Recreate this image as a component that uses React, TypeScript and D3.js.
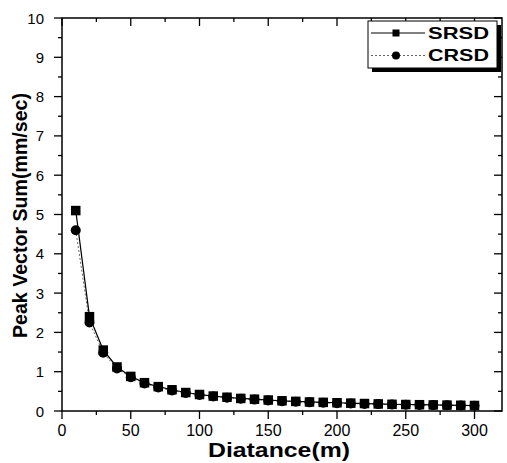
import { useEffect, useRef } from 'react';
import * as d3 from 'd3';

const distance = [10, 20, 30, 40, 50, 60, 70, 80, 90, 100, 110, 120, 130, 140, 150, 160, 170, 180, 190, 200, 210, 220, 230, 240, 250, 260, 270, 280, 290, 300];
const srsd = [5.1, 2.4, 1.55, 1.12, 0.88, 0.72, 0.62, 0.54, 0.47, 0.42, 0.38, 0.35, 0.32, 0.3, 0.28, 0.26, 0.245, 0.23, 0.22, 0.21, 0.2, 0.19, 0.18, 0.17, 0.165, 0.16, 0.155, 0.15, 0.145, 0.14];
const crsd = [4.6, 2.25, 1.48, 1.08, 0.86, 0.7, 0.6, 0.52, 0.46, 0.41, 0.37, 0.34, 0.31, 0.29, 0.27, 0.25, 0.235, 0.22, 0.21, 0.2, 0.19, 0.18, 0.175, 0.165, 0.16, 0.155, 0.15, 0.145, 0.14, 0.135];
const xTicks = [0, 50, 100, 150, 200, 250, 300];
const yTicks = [0, 1, 2, 3, 4, 5, 6, 7, 8, 9, 10];
const seriesNames = ['SRSD', 'CRSD'];

const App = () => {
	const ref = useRef<SVGSVGElement>(null);

	useEffect(() => {
		const margin = { top: 18, right: 5, bottom: 52, left: 62 },
			width = 507 - margin.left - margin.right,
			height = 463 - margin.top - margin.bottom;

		const svg = d3.select(ref.current).attr('width', 507).attr('height', 463);
		svg.selectAll('*').remove();
		const font = 'Liberation Sans, Arial, sans-serif';

		const x = d3.scaleLinear().domain([0, 320]).range([0, width]);
		const y = d3.scaleLinear().domain([0, 10]).range([height, 0]);

		const g = svg.append('g').attr('transform', `translate(${margin.left}, ${margin.top})`);

		// frame
		g.append('rect')
			.attr('width', width)
			.attr('height', height)
			.attr('fill', 'none')
			.attr('stroke', '#000')
			.attr('stroke-width', 1.5);

		const xMinor = d3.range(0, 325, 25);
		const yMinor = d3.range(0, 10.01, 0.5);

		// bottom/left ticks outward, top/right mirrored inward
		xMinor.forEach((v) => {
			const len = v % 50 === 0 ? 8 : 4;
			g.append('line').attr('x1', x(v)).attr('x2', x(v)).attr('y1', height).attr('y2', height + len).attr('stroke', '#000').attr('stroke-width', 1.3);
			g.append('line').attr('x1', x(v)).attr('x2', x(v)).attr('y1', 0).attr('y2', len).attr('stroke', '#000').attr('stroke-width', 1.3);
		});
		yMinor.forEach((v) => {
			const len = Math.abs(v % 1) < 1e-6 ? 8 : 4;
			g.append('line').attr('y1', y(v)).attr('y2', y(v)).attr('x1', 0).attr('x2', -len).attr('stroke', '#000').attr('stroke-width', 1.3);
			g.append('line').attr('y1', y(v)).attr('y2', y(v)).attr('x1', width).attr('x2', width - len).attr('stroke', '#000').attr('stroke-width', 1.3);
		});

		g.selectAll('.xt')
			.data(xTicks)
			.join('text')
			.attr('x', (d) => x(d))
			.attr('y', height + 25)
			.attr('text-anchor', 'middle')
			.attr('font-family', font)
			.attr('font-size', 16)
			.text((d) => d);

		g.selectAll('.yt')
			.data(yTicks)
			.join('text')
			.attr('x', -18)
			.attr('y', (d) => y(d) + 5.5)
			.attr('text-anchor', 'end')
			.attr('font-family', font)
			.attr('font-size', 15)
			.text((d) => d);

		g.append('text')
			.attr('x', 279 - margin.left)
			.attr('y', height + 46)
			.attr('text-anchor', 'middle')
			.attr('font-family', font)
			.attr('font-weight', 'bold')
			.attr('font-size', 19.5)
			.attr('textLength', 142)
			.attr('lengthAdjust', 'spacingAndGlyphs')
			.text('Diatance(m)');

		g.append('text')
			.attr('transform', `translate(${27 - margin.left}, ${215.5 - margin.top}) rotate(-90)`)
			.attr('text-anchor', 'middle')
			.attr('font-family', font)
			.attr('font-weight', 'bold')
			.attr('font-size', 20.5)
			.attr('textLength', 245)
			.attr('lengthAdjust', 'spacingAndGlyphs')
			.text('Peak Vector Sum(mm/sec)');

		const line = (vals: number[]) =>
			d3
				.line<number>()
				.x((_, i) => x(distance[i]))
				.y((d) => y(d))(vals);

		g.append('path').attr('d', line(crsd)).attr('fill', 'none').attr('stroke', '#666').attr('stroke-width', 1).attr('stroke-dasharray', '2,2');
		g.append('path').attr('d', line(srsd)).attr('fill', 'none').attr('stroke', '#000').attr('stroke-width', 1.2);

		g.selectAll('.sq')
			.data(srsd)
			.join('rect')
			.attr('x', (_, i) => x(distance[i]) - 4.75)
			.attr('y', (d) => y(d) - 4.75)
			.attr('width', 9.5)
			.attr('height', 9.5)
			.attr('fill', '#000');

		g.selectAll('.ci')
			.data(crsd)
			.join('circle')
			.attr('cx', (_, i) => x(distance[i]))
			.attr('cy', (d) => y(d))
			.attr('r', 5)
			.attr('fill', '#000');

		// legend
		const lg = svg.append('g').attr('transform', 'translate(368, 21)');
		lg.append('rect').attr('x', 4).attr('y', 4).attr('width', 129).attr('height', 47).attr('fill', '#000');
		lg.append('rect').attr('width', 129).attr('height', 47).attr('fill', '#fff').attr('stroke', '#000').attr('stroke-width', 1);
		seriesNames.forEach((name, i) => {
			const cy = 12 + i * 22.5;
			lg.append('line').attr('x1', 3).attr('x2', 57).attr('y1', cy).attr('y2', cy)
				.attr('stroke', i === 0 ? '#000' : '#666')
				.attr('stroke-width', 1)
				.attr('stroke-dasharray', i === 0 ? null : '2,2');
			if (i === 0) lg.append('rect').attr('x', 24.5).attr('y', cy - 3.5).attr('width', 7).attr('height', 7).attr('fill', '#000');
			else lg.append('circle').attr('cx', 28).attr('cy', cy).attr('r', 4).attr('fill', '#000');
			lg.append('text')
				.attr('x', 60)
				.attr('y', cy + 5.5)
				.attr('font-family', font)
				.attr('font-weight', 'bold')
				.attr('font-size', 16.5)
				.attr('textLength', 61)
				.attr('lengthAdjust', 'spacingAndGlyphs')
				.text(name);
		});
	}, []);

	return <svg ref={ref} style={{ position: 'absolute', left: 0, top: 0 }} />;
};

export default App;
